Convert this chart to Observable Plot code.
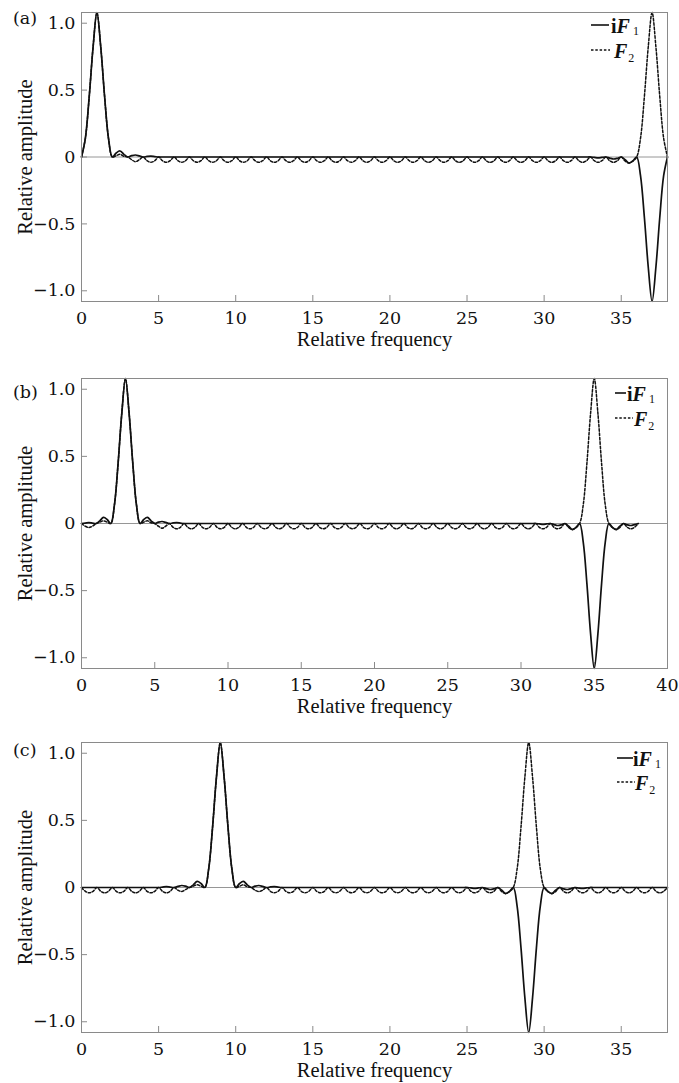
<!DOCTYPE html>
<html><head><meta charset="utf-8">
<script src="https://cdn.jsdelivr.net/npm/d3@7"></script>
<script src="https://cdn.jsdelivr.net/npm/@observablehq/plot@0.6"></script>
<style>body{margin:0;background:#fff} #chart svg{display:block}</style>
</head><body><div id="chart"></div>
<script>
// Relative frequency sample positions
const freq = [
0,.25,.5,.75,1,1.25,1.5,1.75,2,2.25,2.5,2.75,3,3.25,3.5,3.75,4,4.25,4.5,4.75,
5,5.25,5.5,5.75,6,6.25,6.5,6.75,7,7.25,7.5,7.75,8,8.25,8.5,8.75,9,9.25,9.5,9.75,
10,10.25,10.5,10.75,11,11.25,11.5,11.75,12,12.25,12.5,12.75,13,13.25,13.5,13.75,14,14.25,14.5,14.75,
15,15.25,15.5,15.75,16,16.25,16.5,16.75,17,17.25,17.5,17.75,18,18.25,18.5,18.75,19,19.25,19.5,19.75,
20,20.25,20.5,20.75,21,21.25,21.5,21.75,22,22.25,22.5,22.75,23,23.25,23.5,23.75,24,24.25,24.5,24.75,
25,25.25,25.5,25.75,26,26.25,26.5,26.75,27,27.25,27.5,27.75,28,28.25,28.5,28.75,29,29.25,29.5,29.75,
30,30.25,30.5,30.75,31,31.25,31.5,31.75,32,32.25,32.5,32.75,33,33.25,33.5,33.75,34,34.25,34.5,34.75,
35,35.25,35.5,35.75,36,36.25,36.5,36.75,37,37.25,37.5,37.75,38
];

// Panel (a)
const aIF1 = [
0,.14,.45,.82, 1.08,.82,.45,.14, 0,.03,.045,.02, 0,.01,.015,.008, 0,.004,.006,.003,
0,0,0,0, 0,0,0,0, 0,0,0,0, 0,0,0,0, 0,0,0,0, 0,0,0,0, 0,0,0,0,
0,0,0,0, 0,0,0,0, 0,0,0,0, 0,0,0,0, 0,0,0,0, 0,0,0,0, 0,0,0,0,
0,0,0,0, 0,0,0,0, 0,0,0,0, 0,0,0,0, 0,0,0,0, 0,0,0,0, 0,0,0,0,
0,0,0,0, 0,0,0,0, 0,0,0,0, 0,0,0,0, 0,0,0,0, 0,0,0,0, 0,0,0,0,
0,-.003,-.006,-.003, 0,-.008,-.015,-.01, 0,-.02,-.045,-.03, 0,-.14,-.45,-.82, -1.08,-.82,-.45,-.14, 0
];
const aF2 = [
0,.14,.45,.82, 1.08,.82,.45,.14, 0,.01,.02,.005, 0,-.02,-.035,-.02,
0,-.028,-.04,-.028, 0,-.028,-.04,-.028, 0,-.028,-.04,-.028, 0,-.028,-.04,-.028, 0,-.028,-.04,-.028, 0,-.028,-.04,-.028, 0,-.028,-.04,-.028,
0,-.028,-.04,-.028, 0,-.028,-.04,-.028, 0,-.028,-.04,-.028, 0,-.028,-.04,-.028, 0,-.028,-.04,-.028, 0,-.028,-.04,-.028, 0,-.028,-.04,-.028,
0,-.028,-.04,-.028, 0,-.028,-.04,-.028, 0,-.028,-.04,-.028, 0,-.028,-.04,-.028, 0,-.028,-.04,-.028, 0,-.028,-.04,-.028, 0,-.028,-.04,-.028,
0,-.028,-.04,-.028, 0,-.028,-.04,-.028, 0,-.028,-.04,-.028, 0,-.028,-.04,-.028, 0,-.028,-.04,-.028, 0,-.028,-.04,-.028, 0,-.028,-.04,-.028,
0,-.028,-.04,-.028, 0,-.028,-.04,-.028, 0,-.028,-.04,-.028,
0,-.03,-.045,-.03, 0,.14,.45,.82, 1.08,.82,.45,.14, 0
];

// Panel (b)
const bIF1 = [
0,.003,.006,.003, 0,.02,.045,.03, 0,.14,.45,.82, 1.08,.82,.45,.14, 0,.03,.045,.02, 0,.01,.015,.008, 0,.004,.006,.003,
0,0,0,0, 0,0,0,0, 0,0,0,0, 0,0,0,0, 0,0,0,0, 0,0,0,0, 0,0,0,0,
0,0,0,0, 0,0,0,0, 0,0,0,0, 0,0,0,0, 0,0,0,0, 0,0,0,0, 0,0,0,0,
0,0,0,0, 0,0,0,0, 0,0,0,0, 0,0,0,0, 0,0,0,0, 0,0,0,0, 0,0,0,0,
0,0,0,0, 0,0,0,0, 0,0,0,0,
0,-.003,-.006,-.003, 0,-.008,-.015,-.01, 0,-.02,-.045,-.03, 0,-.14,-.45,-.82, -1.08,-.82,-.45,-.14, 0,-.03,-.045,-.02, 0,-.01,-.015,-.008, 0
];
const bF2 = [
0,-.02,-.03,-.02, 0,.01,.02,.01, 0,.14,.45,.82, 1.08,.82,.45,.14, 0,.01,.02,.005, 0,-.02,-.035,-.02,
0,-.028,-.04,-.028, 0,-.028,-.04,-.028, 0,-.028,-.04,-.028, 0,-.028,-.04,-.028, 0,-.028,-.04,-.028, 0,-.028,-.04,-.028, 0,-.028,-.04,-.028,
0,-.028,-.04,-.028, 0,-.028,-.04,-.028, 0,-.028,-.04,-.028, 0,-.028,-.04,-.028, 0,-.028,-.04,-.028, 0,-.028,-.04,-.028, 0,-.028,-.04,-.028,
0,-.028,-.04,-.028, 0,-.028,-.04,-.028, 0,-.028,-.04,-.028, 0,-.028,-.04,-.028, 0,-.028,-.04,-.028, 0,-.028,-.04,-.028, 0,-.028,-.04,-.028,
0,-.028,-.04,-.028, 0,-.028,-.04,-.028, 0,-.028,-.04,-.028, 0,-.028,-.04,-.028, 0,-.028,-.04,-.028, 0,-.028,-.04,-.028,
0,-.03,-.045,-.03, 0,.14,.45,.82, 1.08,.82,.45,.14, 0,-.03,-.045,-.03, 0,-.028,-.04,-.028, 0
];

// Panel (c)
const cIF1 = [
0,0,0,0, 0,0,0,0, 0,0,0,0, 0,0,0,0, 0,0,0,0,
0,.003,.006,.003, 0,.008,.015,.01, 0,.02,.045,.03, 0,.14,.45,.82, 1.08,.82,.45,.14, 0,.03,.045,.02, 0,.01,.015,.008, 0,.004,.006,.003,
0,0,0,0, 0,0,0,0, 0,0,0,0, 0,0,0,0, 0,0,0,0, 0,0,0,0, 0,0,0,0,
0,0,0,0, 0,0,0,0, 0,0,0,0, 0,0,0,0, 0,0,0,0,
0,-.003,-.006,-.003, 0,-.008,-.015,-.01, 0,-.02,-.045,-.03, 0,-.14,-.45,-.82, -1.08,-.82,-.45,-.14, 0,-.03,-.045,-.02, 0,-.01,-.015,-.008, 0,-.004,-.006,-.003,
0,0,0,0, 0,0,0,0, 0,0,0,0, 0,0,0,0, 0,0,0,0, 0
];
const cF2 = [
0,-.028,-.04,-.028, 0,-.028,-.04,-.028, 0,-.028,-.04,-.028, 0,-.028,-.04,-.028, 0,-.028,-.04,-.028, 0,-.028,-.04,-.028,
0,-.02,-.03,-.015, 0,.01,.02,.01, 0,.14,.45,.82, 1.08,.82,.45,.14, 0,.01,.02,.005, 0,-.02,-.03,-.02,
0,-.028,-.04,-.028, 0,-.028,-.04,-.028, 0,-.028,-.04,-.028, 0,-.028,-.04,-.028, 0,-.028,-.04,-.028, 0,-.028,-.04,-.028, 0,-.028,-.04,-.028,
0,-.028,-.04,-.028, 0,-.028,-.04,-.028, 0,-.028,-.04,-.028, 0,-.028,-.04,-.028, 0,-.028,-.04,-.028, 0,-.028,-.04,-.028, 0,-.028,-.04,-.028,
0,-.028,-.04,-.028,
0,-.03,-.045,-.03, 0,.14,.45,.82, 1.08,.82,.45,.14, 0,-.03,-.045,-.03,
0,-.028,-.04,-.028, 0,-.028,-.04,-.028, 0,-.028,-.04,-.028, 0,-.028,-.04,-.028, 0,-.028,-.04,-.028, 0,-.028,-.04,-.028, 0,-.028,-.04,-.028, 0
];

const xTicksAC = [0,5,10,15,20,25,30,35];
const xTicksB = [0,5,10,15,20,25,30,35,40];
const yTicks = [-1,-0.5,0,0.5,1];
const panelLabels = ["(a)","(b)","(c)"];
const xTitle = "Relative frequency";
const yTitle = "Relative amplitude";

const W = 679, ML = 81, MR = 12;
const panels = [
  {label: panelLabels[0], s: aIF1, d: aF2, xDomain: [0,38], xTicks: xTicksAC, mt: 12, mb: 60, labDy: 6,
   leg: {x0: 591, seg1: 18, seg2: 19, y1: 25, b1: 33, t1: 611, y2: 50, b2: 58, t2: 614}},
  {label: panelLabels[1], s: bIF1, d: bF2, xDomain: [0,40], xTicks: xTicksB, mt: 17, mb: 54, labDy: 14,
   leg: {x0: 615, seg1: 11, seg2: 18, y1: 32, b1: 40, t1: 627, y2: 57, b2: 65, t2: 634}},
  {label: panelLabels[2], s: cIF1, d: cF2, xDomain: [0,38], xTicks: xTicksAC, mt: 20, mb: 51, labDy: 8,
   leg: {x0: 617, seg1: 16, seg2: 18, y1: 36, b1: 44, t1: 633, y2: 60, b2: 68, t2: 635}}
];

const fmtY = d => d === 0 ? "0" : (d < 0 ? "\u2212" : "") + Math.abs(d).toFixed(1);
const chart = document.getElementById("chart");
const SERIF_NUM = "'DejaVu Serif', serif";
const SERIF_TXT = "'Liberation Serif', serif";

for (const p of panels) {
  if (p.s.length !== freq.length || p.d.length !== freq.length) {
    const e = document.createElement("div");
    e.textContent = "length mismatch " + p.label + " " + p.s.length + " " + p.d.length + " " + freq.length;
    chart.appendChild(e);
  }
  const H = 361;
  const plotH = H - p.mt - p.mb, plotW = W - ML - MR;
  const solid = freq.map((x, i) => ({x, y: p.s[i]}));
  const dashed = freq.map((x, i) => ({x, y: p.d[i]}));
  const svg = Plot.plot({
    width: W, height: H,
    marginLeft: ML, marginRight: MR, marginTop: p.mt, marginBottom: p.mb,
    style: {background: "#fff", color: "#111", overflow: "visible"},
    x: {domain: p.xDomain, ticks: p.xTicks, tickSize: 0, tickPadding: 10, label: null},
    y: {domain: [-1.08, 1.08], ticks: yTicks, tickSize: 0, tickPadding: 6, label: null, tickFormat: fmtY},
    marks: [
      Plot.ruleY([0], {stroke: "#8a8a8a", strokeWidth: 0.9}),
      Plot.tickX(p.xTicks, {x: d => d, insetTop: plotH - 6, stroke: "#8a8a8a"}),
      Plot.tickY(yTicks, {y: d => d, insetRight: plotW - 6, stroke: "#8a8a8a"}),
      Plot.line(dashed, {x: "x", y: "y", stroke: "#111", strokeWidth: 1.5, strokeDasharray: "2.5,1.8", curve: "catmull-rom"}),
      Plot.line(solid, {x: "x", y: "y", stroke: "#111", strokeWidth: 1.7, curve: "catmull-rom"}),
      Plot.frame({stroke: "#8a8a8a", strokeWidth: 1}),
      Plot.text([p.label], {text: d => d, frameAnchor: "top-left", dx: -68.5, dy: p.labDy, textAnchor: "start", lineAnchor: "middle"}),
      Plot.text([xTitle], {text: d => d, frameAnchor: "bottom", dy: 38, textAnchor: "middle", lineAnchor: "middle"}),
      Plot.text([yTitle], {text: d => d, frameAnchor: "left", dx: -56, rotate: -90, textAnchor: "middle", lineAnchor: "middle"})
    ]
  });
  // fonts: numbers/labels in a wide serif, titles in a Times-like serif
  d3.select(svg).selectAll("text").each(function() {
    const t = this.textContent;
    if (t === xTitle || t === yTitle) {
      d3.select(this).style("font-family", SERIF_TXT).style("font-size", "20.5px");
    } else {
      d3.select(this).style("font-family", SERIF_NUM).style("font-size", "17.5px");
    }
    d3.select(this).style("fill", "#111");
  });
  // legend
  const L = p.leg;
  const g = d3.select(svg).append("g").attr("fill", "#111").attr("text-anchor", "start");
  g.append("line").attr("x1", L.x0).attr("x2", L.x0 + L.seg1).attr("y1", L.y1).attr("y2", L.y1)
    .attr("stroke", "#111").attr("stroke-width", 1.6);
  g.append("line").attr("x1", L.x0).attr("x2", L.x0 + L.seg2).attr("y1", L.y2).attr("y2", L.y2)
    .attr("stroke", "#111").attr("stroke-width", 1.5).attr("stroke-dasharray", "2.5,1.8");
  const t1 = g.append("text").attr("x", L.t1).attr("y", L.b1).attr("text-anchor", "start")
    .style("font-family", SERIF_TXT).style("font-size", "20px").style("font-weight", "bold");
  t1.append("tspan").text("i");
  t1.append("tspan").style("font-style", "italic").text("F");
  t1.append("tspan").style("font-size", "12px").style("font-weight", "normal").attr("dx", 3).attr("dy", 2).text("1");
  const t2 = g.append("text").attr("x", L.t2).attr("y", L.b2).attr("text-anchor", "start")
    .style("font-family", SERIF_TXT).style("font-size", "20px").style("font-weight", "bold");
  t2.append("tspan").style("font-style", "italic").text("F");
  t2.append("tspan").style("font-size", "12px").style("font-weight", "normal").attr("dx", 1).attr("dy", 4).text("2");
  chart.appendChild(svg);
}
</script>
</body></html>
